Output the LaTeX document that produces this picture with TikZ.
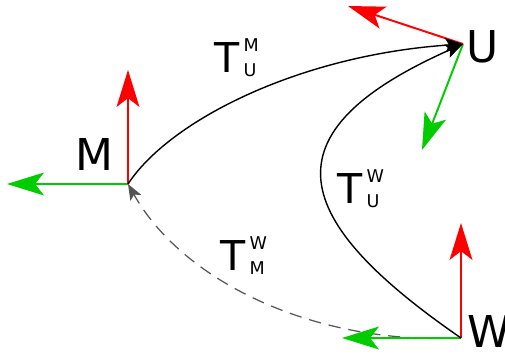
\documentclass[tikz,border=0pt]{standalone}
\usepackage{fontspec}
\setmainfont{DejaVu Sans}
\usetikzlibrary{arrows.meta}

\definecolor{axisred}{HTML}{FF0000}
\definecolor{axisgreen}{HTML}{00CC00}
\definecolor{dashgray}{HTML}{555555}

% transform label: T with stacked frame names
\newcommand{\tform}[2]{T\kern0.1em\rlap{\raisebox{0.49em}{\fontsize{10}{10}\selectfont #1}}\raisebox{-0.12em}{\fontsize{10}{10}\selectfont #2}}

\begin{document}
\begin{tikzpicture}[x=0.02cm, y=-0.02cm,
    axis/.style={line width=1.1pt, -{Stealth[length=21pt, width=13pt, inset=5pt]}},
    link/.style={line width=0.8pt, -{Stealth[length=10pt, width=8pt, inset=2pt]}},
    frame/.style={font=\fontsize{25}{30}\selectfont, anchor=base west, inner sep=0pt},
    tlabel/.style={font=\fontsize{23.4}{28}\selectfont, anchor=base west, inner sep=0pt}]
  \useasboundingbox (0,0) rectangle (505,356);

  % frame origins and axis ends
  \coordinate (M) at (128,184);
  \coordinate (U) at (463,44);
  \coordinate (W) at (461,338);
  \coordinate (Mx) at (7,184);   \coordinate (My) at (128,70);
  \coordinate (Ux) at (422,150); \coordinate (Uy) at (348,6);
  \coordinate (Wx) at (342,338); \coordinate (Wy) at (461,223);

  % dashed transform W -> M
  \draw[dashgray, line width=0.7pt, dash pattern=on 7pt off 4.5pt,
        -{Stealth[length=9pt, width=7pt, inset=2pt, sep=0pt]}]
    (W) .. controls (320,345) and (185,285) .. (M);

  % axes
  \foreach \f in {M, U, W} {
    \draw[axis, axisgreen] (\f) -- (\f x);
    \draw[axis, axisred] (\f) -- (\f y);
  }

  % transforms into U
  \draw[link] (M) .. controls (170,120) and (300,55) .. (U);
  \draw[link] (W) .. controls (290,220) and (262,133) .. (U);

  % labels
  \node[frame] (lblM) at (75,170) {M};
  \node[frame] (lblU) at (466,62) {U};
  \node[frame] (lblW) at (467,347) {W};
  \node[tlabel] (tMU) at (214,72) {\tform{M}{U}};
  \node[tlabel] (tWU) at (337,203) {\tform{W}{U}};
  \node[tlabel] (tWM) at (220,270) {\tform{W}{M}};
\end{tikzpicture}
\end{document}
